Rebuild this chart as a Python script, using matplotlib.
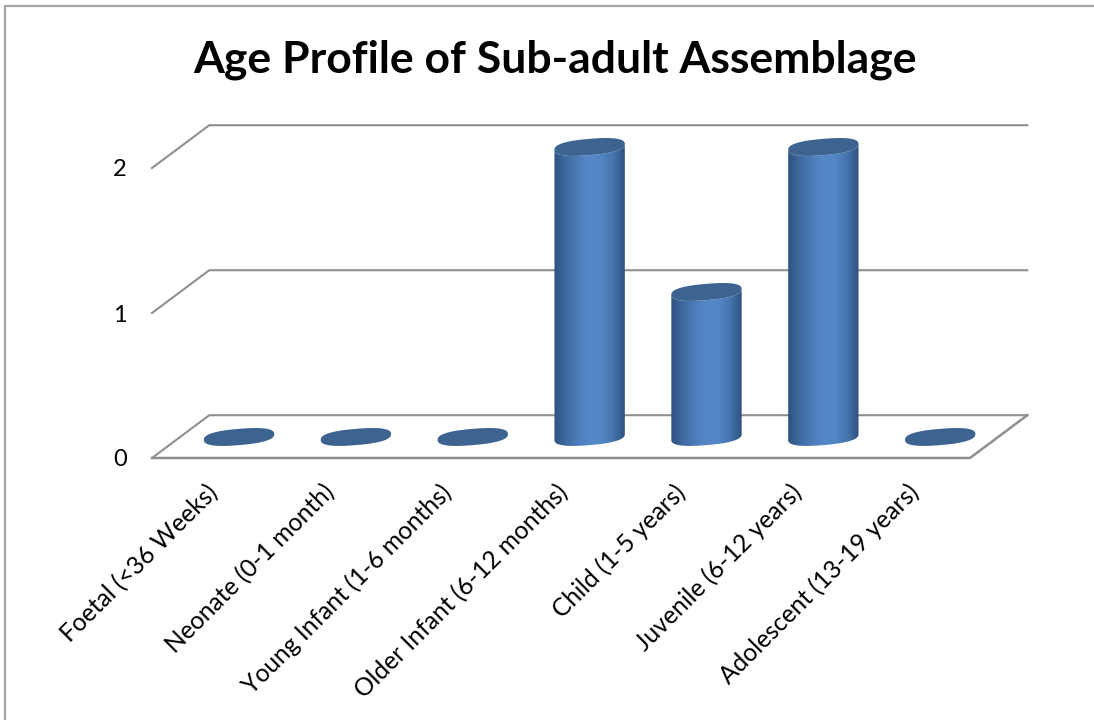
import matplotlib
matplotlib.use('Agg')
import matplotlib.pyplot as plt
import numpy as np
from matplotlib.colors import LinearSegmentedColormap
from matplotlib.lines import Line2D
from matplotlib.patches import Polygon
from matplotlib.transforms import ScaledTranslation

plt.rcParams['font.family'] = ['Lato', 'DejaVu Sans']

categories = ['Foetal (<36 Weeks)', 'Neonate (0-1 month)', 'Young Infant (1-6 months)',
              'Older Infant (6-12 months)', 'Child (1-5 years)', 'Juvenile (6-12 years)',
              'Adolescent (13-19 years)']
counts = [0, 0, 0, 2, 1, 2, 0]
yticks = [0, 1, 2]
title = 'Age Profile of Sub-adult Assemblage'

W, H = 1094, 720
fig = plt.figure(figsize=(W / 100, H / 100), dpi=100)

# axes box in pixels, the floor front edge is y=0
left, right, bottom = 152, 970, 458
unit = 145.0
ymax = 2.4
ax = fig.add_axes([left / W, (H - bottom) / H, (right - left) / W, ymax * unit / H])
ax.set_facecolor('none')

# oblique depth of the wall and of the bar centres (data units)
depth_x, depth_y = 0.49, 0.295
bar_dx, bar_dy = 0.245, 0.145
half_w = 0.301
ell_h, ell_tilt = 0.056, 0.02

grid_col = '#8f8f8f'
for v in yticks:
    ax.plot([-0.5, -0.5 + depth_x, 6.5 + depth_x], [v, v + depth_y, v + depth_y],
            color=grid_col, lw=1.5, clip_on=False, zorder=1)
ax.plot([-0.5, 6.5, 6.5 + depth_x], [0, 0, depth_y], color=grid_col, lw=1.8, clip_on=False, zorder=1)

body_cmap = LinearSegmentedColormap.from_list(
    'body', ['#2f5280', '#3f6a9f', '#4d7cb9', '#5588c9', '#5386c5', '#4775ae', '#2e517e'])
top_col = '#3d6491'
t = np.linspace(0, 2 * np.pi, 120)
# slightly squarer than a true ellipse, the cylinder ends are not pointed
ct = np.sign(np.cos(t)) * np.abs(np.cos(t)) ** 0.8
st = np.sign(np.sin(t)) * np.abs(np.sin(t)) ** 0.8
gradient = np.linspace(0, 1, 256).reshape(1, -1)

for i, v in enumerate(counts):
    cx = i + bar_dx
    y0 = bar_dy
    ex = cx + half_w * ct
    ey = ell_h * st + ell_tilt * ct
    if v > 0:
        lower = t > np.pi
        bx = np.r_[ex[lower], ex[lower][::-1]]
        by = np.r_[ey[lower] + y0, ey[lower][::-1] + y0 + v]
        clip = Polygon(np.c_[bx, by], closed=True, transform=ax.transData, fc='none', ec='none')
        ax.add_patch(clip)
        im = ax.imshow(gradient, extent=[cx - half_w, cx + half_w, y0 - 0.1, y0 + v + 0.1],
                       cmap=body_cmap, aspect='auto', zorder=3, interpolation='bilinear')
        im.set_clip_path(clip)
    ax.fill(ex, ey + y0 + v, color=top_col, lw=0, zorder=4, clip_on=False)

ax.set_xlim(-0.5, 6.5)
ax.set_ylim(0, ymax)
for s in ax.spines.values():
    s.set_visible(False)

ax.set_yticks(yticks)
ax.set_yticklabels([str(v) for v in yticks], fontsize=17, color='black')
ax.tick_params(axis='y', length=0, pad=18)

ax.set_xticks(range(len(categories)))
ax.set_xticklabels(categories, fontsize=17.7, rotation=45, ha='right', va='top', rotation_mode='anchor')
ax.tick_params(axis='x', length=0, pad=16)
shift = ScaledTranslation(-5 / 100, 0, fig.dpi_scale_trans)
for lab in ax.get_xticklabels():
    lab.set_transform(lab.get_transform() + shift)

fig.text(555 / W, 1 - 59.5 / H, title, fontsize=32, fontweight='bold', ha='center', va='center')

# outer chart frame, only top and left are inside the crop
fig.add_artist(Line2D([5 / W, 5 / W, 1], [0, 1 - 6 / H, 1 - 6 / H], color='#a6a6a6', lw=1.6))

fig.savefig('out.png', dpi=100)
